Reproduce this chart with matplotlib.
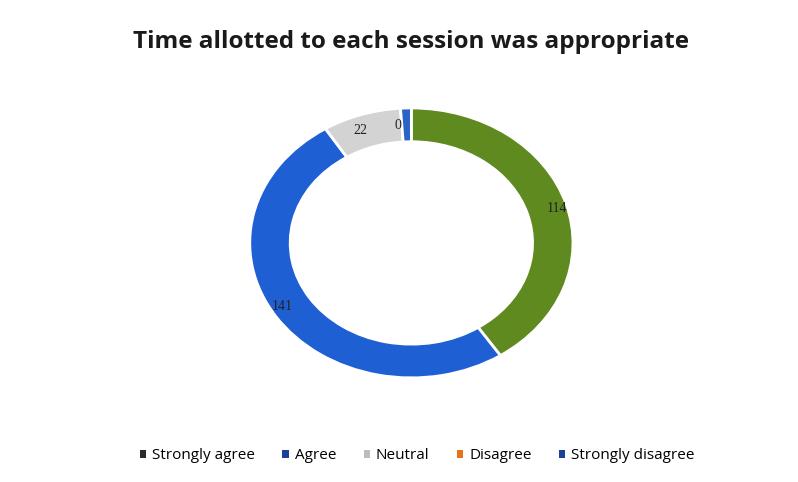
import matplotlib.pyplot as plt
from matplotlib.patches import Patch

# データ
categories = ['Strongly agree', 'Agree', 'Neutral', 'Disagree', 'Strongly disagree']
values = [114, 141, 22, 0, 3]
value_labels = ['114', '141', '22', '0', '']
colors = ['#5f8a1f', '#1f5fd4', '#d3d3d3', '#e8731c', '#2a62c8']
legend_colors = ['#2b2b2b', '#1c3f9a', '#bdbdbd', '#e8731c', '#1c3f9a']

fig = plt.figure(figsize=(7.98, 4.82), dpi=100)
fig.patch.set_facecolor('white')

ax = fig.add_axes([0.313, 0.216, 0.405, 0.560])
wedges, texts = ax.pie(values, colors=colors, labels=value_labels,
                       startangle=90, counterclock=False, radius=1.0,
                       labeldistance=0.875,
                       wedgeprops=dict(width=0.25, edgecolor='white', linewidth=2),
                       textprops=dict(family='Liberation Serif', fontsize=10, color='#222222'))
ax.set_aspect('auto')
ax.set_xlim(-1, 1)
ax.set_ylim(-1, 1)

# タイトル
fig.text(0.515, 0.912, 'Time allotted to each session was appropriate',
         ha='center', va='center', fontsize=17.5, fontweight='bold',
         family='Open Sans', color='#1a1a1a')

# 凡例
handles = [Patch(facecolor=c, edgecolor='none') for c in legend_colors]
fig.legend(handles, categories, loc='center', bbox_to_anchor=(0.523, 0.054),
           ncol=5, frameon=False, handlelength=0.4, handleheight=0.4,
           handletextpad=0.4, columnspacing=1.8,
           prop=dict(family='Open Sans', size=11))

fig.savefig('out.png', dpi=100, facecolor=fig.get_facecolor())
